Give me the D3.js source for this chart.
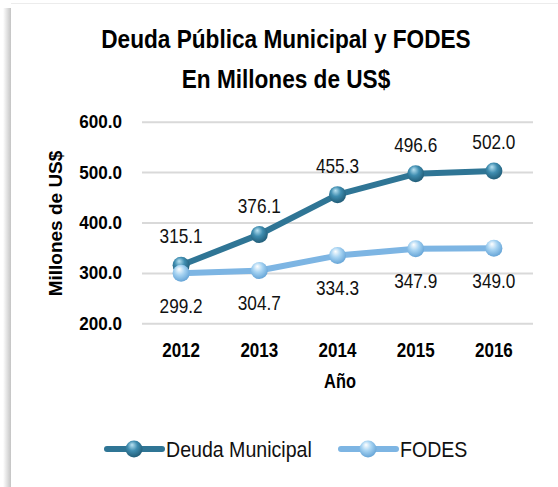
<!DOCTYPE html>
<html lang="es">
<head>
<meta charset="UTF-8">
<title>Deuda Pública Municipal y FODES</title>
<script src="https://d3js.org/d3.v7.min.js"></script>
<style>
  body { margin: 0; background: #ffffff; }
  svg { display: block; font-family: "Liberation Sans", Arial, sans-serif; }
  .grid line { stroke: #d9d9d9; stroke-width: 2; }
  .ytick text { font-size: 19px; font-weight: bold; fill: #000; }
  .xtick text { font-size: 21px; font-weight: bold; fill: #000; }
  .lbl { font-size: 21px; fill: #111; }
</style>
</head>
<body>
<svg id="chart" width="558" height="487"></svg>
<script>
// --- data ---
const years = ["2012", "2013", "2014", "2015", "2016"];
const deudaMunicipal = [315.1, 376.1, 455.3, 496.6, 502.0];
const fodes = [299.2, 304.7, 334.3, 347.9, 349.0];
const yTicks = [200, 300, 400, 500, 600];
const seriesNames = ["Deuda Municipal", "FODES"];

const svg = d3.select("#chart");
const defs = svg.append("defs");

// no narrow font installed, so squeeze text horizontally around its anchor
function narrow(sel, sx = 0.82) {
  sel.each(function () {
    const t = d3.select(this);
    const x = +t.attr("x") || 0, y = +t.attr("y") || 0;
    t.attr("transform", `translate(${x},${y}) scale(${sx},1) translate(${-x},${-y})`);
  });
}

// frame: thin top line + shadow on the left edge
const shadow = defs.append("linearGradient").attr("id", "leftShadow");
shadow.append("stop").attr("offset", "0%").attr("stop-color", "#ffffff");
shadow.append("stop").attr("offset", "100%").attr("stop-color", "#c4c4c4");
svg.append("rect").attr("x", 3).attr("y", 8).attr("width", 8).attr("height", 479).attr("fill", "url(#leftShadow)");
svg.append("line").attr("x1", 11).attr("x2", 558).attr("y1", 3.5).attr("y2", 3.5).attr("stroke", "#ececec");

// sphere markers
function sphere(id, hi, mid, lo) {
  const g = defs.append("radialGradient").attr("id", id)
    .attr("cx", "45%").attr("cy", "40%").attr("r", "65%").attr("fx", "38%").attr("fy", "25%");
  g.append("stop").attr("offset", "0%").attr("stop-color", hi);
  g.append("stop").attr("offset", "45%").attr("stop-color", mid);
  g.append("stop").attr("offset", "100%").attr("stop-color", lo);
}
sphere("ballDeuda", "#b9e2f2", "#3f8db0", "#1d5670");
sphere("ballFodes", "#ffffff", "#a6d3f2", "#5d9ed3");

const colors = ["#2f7595", "#7db5e3"];
const balls = ["url(#ballDeuda)", "url(#ballFodes)"];

// --- scales ---
const x = d3.scaleBand().domain(years).range([142, 533]);
const y = d3.scaleLinear().domain([200, 600]).range([323.3, 121.7]);
const cx = d => x(d) + x.bandwidth() / 2;

// gridlines + y ticks
svg.append("g")
  .attr("class", "grid ytick")
  .attr("transform", "translate(142,0)")
  .call(d3.axisLeft(y).tickValues(yTicks).tickFormat(d3.format(".1f")).tickSize(-391).tickPadding(20))
  .call(g => g.select(".domain").remove())
  .call(g => g.selectAll("text").call(narrow, 0.9));

// x ticks
svg.append("g")
  .attr("class", "xtick")
  .attr("transform", "translate(0,323.3)")
  .call(d3.axisBottom(x).tickSize(0).tickPadding(18.5))
  .call(g => g.select(".domain").remove())
  .call(g => g.selectAll("text").call(narrow, 0.81));

// titles
svg.append("text").attr("x", 286).attr("y", 48).attr("text-anchor", "middle")
  .attr("font-size", 25).attr("font-weight", "bold")
  .text("Deuda Pública Municipal y FODES")
  .call(narrow, 0.905);
svg.append("text").attr("x", 286).attr("y", 88).attr("text-anchor", "middle")
  .attr("font-size", 25).attr("font-weight", "bold")
  .text("En Millones de US$")
  .call(narrow, 0.905);

svg.append("text")
  .attr("transform", "translate(62,223.5) rotate(-90)")
  .attr("text-anchor", "middle").attr("font-size", 19).attr("font-weight", "bold")
  .text("Millones de US$");

svg.append("text").attr("x", 340).attr("y", 388).attr("text-anchor", "middle")
  .attr("font-size", 21).attr("font-weight", "bold").text("Año")
  .call(narrow, 0.78);

// --- series ---
const series = [deudaMunicipal, fodes];
const line = d3.line().x((d, i) => cx(years[i])).y(d => y(d));

series.forEach((vals, s) => {
  svg.append("path").datum(vals)
    .attr("d", line).attr("fill", "none")
    .attr("stroke", colors[s]).attr("stroke-width", 6)
    .attr("stroke-linejoin", "round").attr("stroke-linecap", "round");
  svg.append("g").selectAll("circle").data(vals).join("circle")
    .attr("cx", (d, i) => cx(years[i])).attr("cy", d => y(d))
    .attr("r", 8.5).attr("fill", balls[s]);
});

// data labels: Deuda above, FODES below
svg.append("g").selectAll("text").data(deudaMunicipal).join("text")
  .attr("class", "lbl").attr("text-anchor", "middle")
  .attr("x", (d, i) => cx(years[i])).attr("y", d => y(d) - 22)
  .text(d => d.toFixed(1))
  .call(narrow);
svg.append("g").selectAll("text").data(fodes).join("text")
  .attr("class", "lbl").attr("text-anchor", "middle")
  .attr("x", (d, i) => cx(years[i])).attr("y", d => y(d) + 39.5)
  .text(d => d.toFixed(1))
  .call(narrow);

// --- legend ---
const legendPos = [107, 341];
seriesNames.forEach((name, s) => {
  const lg = svg.append("g").attr("transform", `translate(${legendPos[s]},449)`);
  lg.append("line").attr("x1", 0).attr("x2", 55).attr("y1", 0).attr("y2", 0)
    .attr("stroke", colors[s]).attr("stroke-width", 6).attr("stroke-linecap", "round");
  lg.append("circle").attr("cx", 27).attr("cy", 0).attr("r", 8.5).attr("fill", balls[s]);
  lg.append("text").attr("x", 59).attr("y", 7.7).attr("font-size", 22.5).attr("fill", "#111").text(name)
    .call(narrow, 0.87);
});
</script>
</body>
</html>
